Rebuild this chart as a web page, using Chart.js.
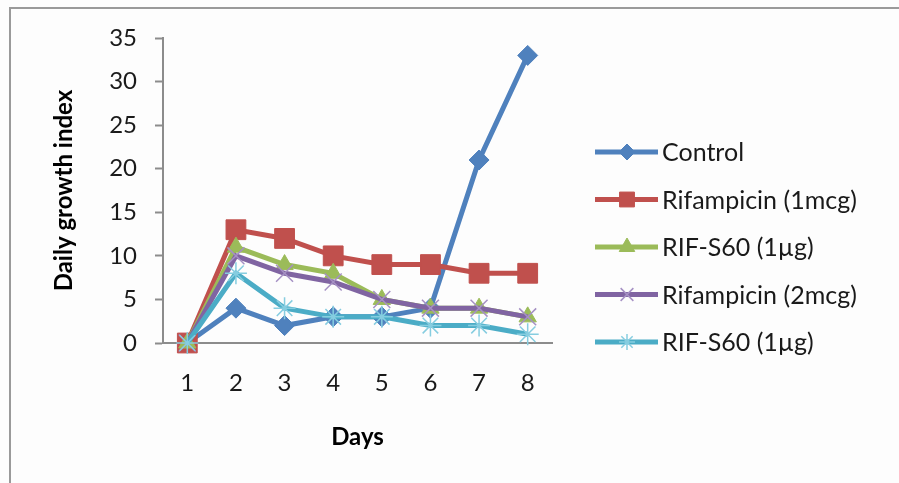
<!DOCTYPE html>
<html>
<head>
<meta charset="utf-8">
<script src="https://cdn.jsdelivr.net/npm/chart.js@4/dist/chart.umd.min.js"></script>
<style>
  html, body { margin: 0; padding: 0; background: #fdfdfd; }
  #frame { position: absolute; left: 9px; top: 7px; width: 900px; height: 490px;
           border-left: 2px solid #9a9a9a; border-top: 2px solid #9a9a9a; }
  #wrap { position: absolute; left: 0; top: 0; width: 899px; height: 483px; }
</style>
</head>
<body>
<div id="frame"></div>
<div id="wrap"><canvas id="growthChart" width="899" height="483"></canvas></div>
<script>
// Jours et valeurs
const days = ['1', '2', '3', '4', '5', '6', '7', '8'];
const control = [0, 4, 2, 3, 3, 4, 21, 33];
const rifampicin1 = [0, 13, 12, 10, 9, 9, 8, 8];
const rifS60Green = [0, 11, 9, 8, 5, 4, 4, 3];
const rifampicin2 = [0, 10, 8, 7, 5, 4, 4, 3];
const rifS60Cyan = [0, 8, 4, 3, 3, 2, 2, 1];

const seriesNames = ['Control', 'Rifampicin (1mcg)', 'RIF-S60 (1\u00b5g)', 'Rifampicin (2mcg)', 'RIF-S60 (1\u00b5g)'];
const yTicks = [0, 5, 10, 15, 20, 25, 30, 35];

const FONT = 'Lato, "Open Sans", sans-serif';

// Légende dessinée à la main : trait + marqueur comme dans Excel
const legendPlugin = {
    id: 'excelLegend',
    afterDraw(chart) {
        const ctx = chart.ctx;
        const legendRadius = [8, 10.5, 9, 9, 8];
        chart.data.datasets.forEach((ds, i) => {
            const y = 152 + i * 47.5;
            ctx.save();
            ctx.strokeStyle = ds.borderColor;
            ctx.lineWidth = 5;
            ctx.beginPath();
            ctx.moveTo(595, y);
            ctx.lineTo(658, y);
            ctx.stroke();
            ctx.fillStyle = ds.pointBackgroundColor;
            ctx.strokeStyle = ds.pointBorderColor;
            ctx.lineWidth = ds.pointBorderWidth;
            Chart.helpers.drawPoint(ctx, {
                pointStyle: ds.pointStyle,
                radius: legendRadius[i],
                borderWidth: ds.pointBorderWidth,
                rotation: 0
            }, 627, y);
            ctx.fillStyle = '#1a1a1a';
            ctx.font = '25px ' + FONT;
            ctx.textBaseline = 'middle';
            ctx.fillText(seriesNames[i], 662, y + 1);
            ctx.restore();
        });
    }
};

function makeSet(i, data, color, style, radius, markerColor, markerWidth, order) {
    return {
        label: seriesNames[i],
        data: data,
        borderColor: color,
        borderWidth: 5,
        pointStyle: style,
        pointRadius: radius,
        pointHoverRadius: radius,
        pointBackgroundColor: markerColor,
        pointBorderColor: markerColor,
        pointBorderWidth: markerWidth,
        tension: 0,
        clip: false,
        order: order
    };
}

const ctx = document.getElementById('growthChart').getContext('2d');
new Chart(ctx, {
    type: 'line',
    data: {
        labels: days,
        datasets: [
            makeSet(0, control, '#4f81bd', 'rectRot', 10, '#4f81bd', 1, 4),
            makeSet(1, rifampicin1, '#c0504d', 'rect', 14, '#c0504d', 1, 3),
            makeSet(2, rifS60Green, '#9bbb59', 'triangle', 10, '#9bbb59', 1, 2),
            makeSet(3, rifampicin2, '#8064a2', 'crossRot', 12, '#a590c4', 1.5, 1),
            makeSet(4, rifS60Cyan, '#4bacc6', 'star', 11, '#86cde0', 1.5, 0)
        ]
    },
    options: {
        responsive: false,
        animation: false,
        layout: { padding: { top: 38, right: 347, left: 0, bottom: 0 } },
        plugins: {
            legend: { display: false },
            tooltip: { enabled: false }
        },
        scales: {
            x: {
                offset: true,
                grid: { display: true, drawOnChartArea: false, drawTicks: false },
                border: { color: '#8c8c8c', width: 2 },
                ticks: { color: '#1a1a1a', font: { family: FONT, size: 24 }, padding: 26 },
                title: {
                    display: true, text: 'Days', color: '#000',
                    font: { family: FONT, size: 24, weight: 'bold' },
                    padding: { top: 0, bottom: 31 }
                },
                afterFit(scale) { scale.height = 140; }
            },
            y: {
                min: 0,
                max: 35,
                afterBuildTicks(scale) { scale.ticks = yTicks.map(v => ({ value: v })); },
                grid: { drawOnChartArea: false, tickLength: 8, color: '#8c8c8c', tickWidth: 2 },
                border: { color: '#8c8c8c', width: 2 },
                ticks: { color: '#1a1a1a', font: { family: FONT, size: 24 }, padding: 18 },
                title: {
                    display: true, text: 'Daily growth index', color: '#000',
                    font: { family: FONT, size: 24, weight: 'bold' },
                    padding: { top: 50, bottom: 0 }
                },
                afterFit(scale) { scale.width = 163; }
            }
        }
    },
    plugins: [legendPlugin]
});
</script>
</body>
</html>
